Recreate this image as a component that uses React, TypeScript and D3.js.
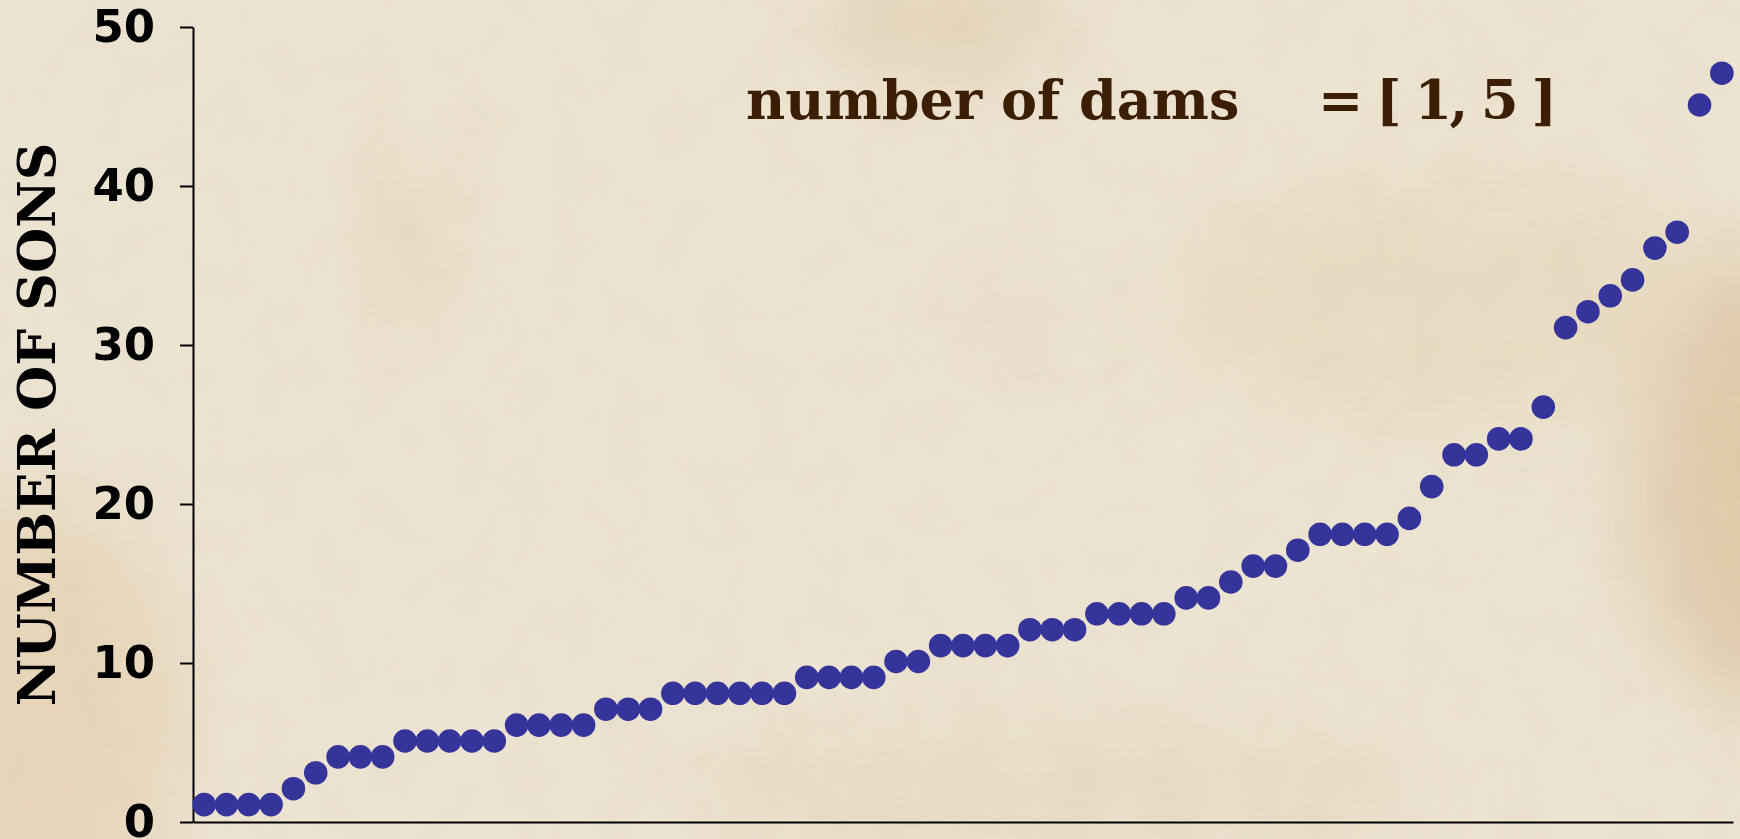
import React, { useEffect, useRef } from 'react';
import * as d3 from 'd3';

// sons per sire, sorted ascending
const sons = [
  1, 1, 1, 1, 2, 3, 4, 4, 4, 5, 5, 5, 5, 5, 6, 6, 6, 6, 7, 7, 7,
  8, 8, 8, 8, 8, 8, 9, 9, 9, 9, 10, 10, 11, 11, 11, 11, 12, 12, 12,
  13, 13, 13, 13, 14, 14, 15, 16, 16, 17, 18, 18, 18, 18, 19, 21,
  23, 23, 24, 24, 26, 31, 32, 33, 34, 36, 37, 45, 47,
];
const yTicks = [0, 10, 20, 30, 40, 50];
const yLabel = 'NUMBER OF SONS';
const titleLeft = 'number of dams';
const titleRight = '= [ 1, 5 ]';

const W = 1740;
const H = 839;

export default function App() {
  const svgRef = useRef<SVGSVGElement>(null);

  useEffect(() => {
    if (!svgRef.current) return;
    const svg = d3.select(svgRef.current);
    svg.selectAll('*').remove();

    const margin = { left: 193, right: 7, top: 27, bottom: 17 };

    const x = d3.scaleLinear()
      .domain([-0.5, sons.length - 0.5])
      .range([margin.left, W - margin.right]);
    const y = d3.scaleLinear()
      .domain([0, 50])
      .range([H - margin.bottom, margin.top]);

    // parchment background
    const defs = svg.append('defs');
    const blur = defs.append('filter').attr('id', 'blur')
      .attr('x', '-50%').attr('y', '-50%').attr('width', '200%').attr('height', '200%');
    blur.append('feGaussianBlur').attr('stdDeviation', 40);

    const grain = defs.append('filter').attr('id', 'grain');
    grain.append('feTurbulence')
      .attr('type', 'fractalNoise').attr('baseFrequency', 0.02).attr('numOctaves', 3).attr('seed', 4);
    grain.append('feColorMatrix').attr('type', 'matrix')
      .attr('values', '0 0 0 0 0.55  0 0 0 0 0.42  0 0 0 0 0.25  0 0 0 0.12 0');
    grain.append('feComposite').attr('in2', 'SourceGraphic').attr('operator', 'in');

    svg.append('rect').attr('width', W).attr('height', H).attr('fill', '#efe6d5');

    const stains = [
      { cx: 30, cy: 720, rx: 150, ry: 220, c: '#e6cfae', o: 0.6 },
      { cx: 1750, cy: 480, rx: 110, ry: 220, c: '#d8bb92', o: 0.6 },
      { cx: 1450, cy: 300, rx: 280, ry: 120, c: '#e6d4b6', o: 0.45 },
      { cx: 940, cy: 20, rx: 120, ry: 50, c: '#dcc49f', o: 0.5 },
      { cx: 410, cy: 240, rx: 30, ry: 100, c: '#e2cba8', o: 0.45 },
      { cx: 1010, cy: 320, rx: 70, ry: 35, c: '#e8d2c8', o: 0.5 },
      { cx: 1050, cy: 790, rx: 380, ry: 70, c: '#e6d6bd', o: 0.45 },
    ];
    svg.append('g').attr('filter', 'url(#blur)')
      .selectAll('ellipse').data(stains).join('ellipse')
      .attr('cx', d => d.cx).attr('cy', d => d.cy)
      .attr('rx', d => d.rx).attr('ry', d => d.ry)
      .attr('fill', d => d.c).attr('opacity', d => d.o);
    svg.append('rect').attr('width', W).attr('height', H)
      .attr('fill', '#fff').attr('filter', 'url(#grain)');

    // y axis
    const yAxis = svg.append('g')
      .attr('transform', `translate(${margin.left},0)`)
      .call(d3.axisLeft(y).tickValues(yTicks).tickSize(13).tickSizeOuter(0).tickPadding(25));
    yAxis.select('.domain').attr('stroke', '#000').attr('stroke-width', 2);
    yAxis.selectAll('.tick line').attr('stroke', '#000').attr('stroke-width', 2);
    yAxis.selectAll('.tick text')
      .attr('fill', '#000')
      .style('font-family', '"DejaVu Sans", sans-serif')
      .style('font-weight', 'bold')
      .style('font-size', '45px');

    // x axis (line only)
    const xAxis = svg.append('g')
      .attr('transform', `translate(0,${y(0)})`)
      .call(d3.axisBottom(x).tickValues([]).tickSizeOuter(0));
    xAxis.select('.domain').attr('stroke', '#000').attr('stroke-width', 2);

    // dots
    svg.append('g')
      .selectAll('circle')
      .data(sons)
      .join('circle')
      .attr('cx', (_, i) => x(i))
      .attr('cy', d => y(d) - 1.5)
      .attr('r', 11.8)
      .attr('fill', '#34349b');

    // y label
    svg.append('text')
      .attr('transform', `translate(55,${(y(0) + y(50)) / 2}) rotate(-90)`)
      .attr('text-anchor', 'middle')
      .attr('fill', '#000')
      .style('font-family', '"DejaVu Serif", serif')
      .style('font-weight', 'bold')
      .style('font-size', '52px')
      .text(yLabel);

    // annotation
    const title = svg.append('g')
      .style('font-family', '"DejaVu Serif", serif')
      .style('font-weight', 'bold')
      .style('font-size', '54px')
      .attr('fill', '#3b1e04');
    title.append('text').attr('x', 746).attr('y', 119).text(titleLeft);
    title.append('text').attr('x', 1318).attr('y', 119)
      .style('letter-spacing', '-2.5px')
      .style('word-spacing', '-1px')
      .text(titleRight);
  }, []);

  return (
    <svg
      ref={svgRef}
      width={W}
      height={H}
      style={{ position: 'absolute', left: 0, top: 0, display: 'block' }}
    />
  );
}
